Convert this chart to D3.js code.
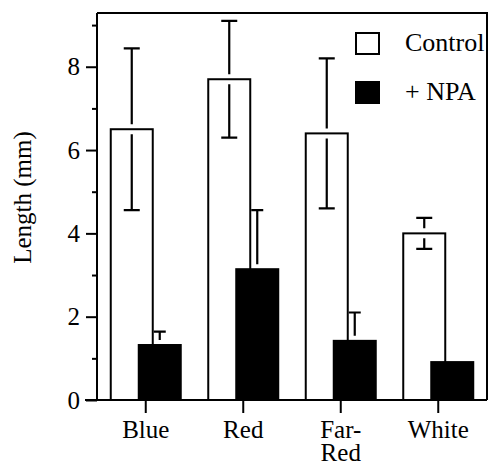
<!DOCTYPE html>
<html>
<head>
<meta charset="utf-8">
<script src="https://cdn.jsdelivr.net/npm/d3@7"></script>
<style>
  html, body { margin: 0; padding: 0; background: #fff; }
</style>
</head>
<body>
<svg id="chart" width="490" height="463"></svg>
<script>
const categories = ["Blue", "Red", "Far-Red", "White"];
const seriesNames = ["Control", "+ NPA"];
const controlValues = [6.5, 7.7, 6.4, 4.0];
const controlErrors = [1.94, 1.4, 1.8, 0.37];
const npaValues = [1.32, 3.14, 1.42, 0.91];
const npaErrors = [0.32, 1.42, 0.68, 0];
const yTicks = [0, 2, 4, 6, 8];
const yMinorTicks = [1, 3, 5, 7, 9];

const width = 490, height = 463;
const marginLeft = 97, marginRight = 3, marginTop = 13, marginBottom = 63;
const textFont = size => `font-size: ${size}px; font-family: "Liberation Serif";`;

const svg = d3.select("#chart");

const x = d3.scaleBand()
    .domain(categories)
    .range([marginLeft, width - marginRight]);

const y = d3.scaleLinear()
    .domain([0, 9.29])
    .range([height - marginBottom, marginTop]);

const offset = d3.scaleOrdinal().domain(seriesNames).range([-14, 14]);
const barW = 42;
const cx = (c, s) => x(c) + x.bandwidth() / 2 + offset(s);

const series = [
  { name: "Control", values: controlValues, errors: controlErrors, fill: "#fff", cap: 16, lower: true },
  { name: "+ NPA", values: npaValues, errors: npaErrors, fill: "#000", cap: 12, lower: false }
];

const gap = 5;
series.forEach(s => {
  const g = svg.append("g");
  g.selectAll("rect")
    .data(categories)
    .join("rect")
      .attr("x", c => cx(c, s.name) - barW / 2)
      .attr("width", barW)
      .attr("y", (c, i) => y(s.values[i]))
      .attr("height", (c, i) => y(0) - y(s.values[i]))
      .attr("fill", s.fill)
      .attr("stroke", "#000")
      .attr("stroke-width", 2);

  // error bars, with a little gap at the bar top
  g.selectAll("path.err")
    .data(categories.map((c, i) => ({ c, v: s.values[i], e: s.errors[i] })).filter(d => d.e > 0))
    .join("path")
      .attr("class", "err")
      .attr("fill", "none")
      .attr("stroke", "#000")
      .attr("stroke-width", 2.2)
      .attr("d", d => {
        const px = cx(d.c, s.name), hw = s.cap / 2;
        let p = `M${px},${y(d.v) - gap}V${y(d.v + d.e)}M${px - hw},${y(d.v + d.e)}H${px + hw}`;
        if (s.lower) p += `M${px},${y(d.v) + gap}V${y(d.v - d.e)}M${px - hw},${y(d.v - d.e)}H${px + hw}`;
        return p;
      });
});

// frame top and right
svg.append("path")
    .attr("fill", "none")
    .attr("stroke", "#000")
    .attr("stroke-width", 2)
    .attr("d", `M${marginLeft},${marginTop}H${width - marginRight}V${y(0)}`);

// x axis
const xAxis = svg.append("g")
    .attr("transform", `translate(0,${y(0)})`)
    .call(d3.axisBottom(x).tickSize(13).tickSizeOuter(0).tickFormat(""));
xAxis.select(".domain").remove();
xAxis.selectAll(".tick line").attr("stroke-width", 2);
svg.append("line")
    .attr("x1", 85).attr("x2", width - marginRight)
    .attr("y1", y(0)).attr("y2", y(0))
    .attr("stroke", "#000").attr("stroke-width", 2);

// category labels, Far-Red broken on two lines
const labelLines = categories.flatMap(c =>
  (c === "Far-Red" ? ["Far-", "Red"] : [c]).map((t, i) => ({ c, t, i })));
svg.append("g")
  .selectAll("text")
  .data(labelLines)
  .join("text")
    .attr("x", d => x(d.c) + x.bandwidth() / 2)
    .attr("y", d => y(0) + 38 + d.i * 23)
    .attr("text-anchor", "middle")
    .attr("style", textFont(25))
    .text(d => d.t);

// y axis
const yAxis = svg.append("g")
    .attr("transform", `translate(${marginLeft},0)`)
    .call(d3.axisLeft(y).tickValues(yTicks).tickSize(11).tickPadding(6).tickSizeOuter(0));
yAxis.attr("font-family", null).attr("font-size", null);
yAxis.select(".domain").attr("d", `M0,${y(0)}V${marginTop}`).attr("stroke-width", 2);
yAxis.selectAll(".tick line").attr("stroke-width", 2);
yAxis.selectAll(".tick text")
    .attr("fill", "#000")
    .attr("style", textFont(25));

svg.append("g")
    .attr("transform", `translate(${marginLeft},0)`)
    .call(d3.axisLeft(y).tickValues(yMinorTicks).tickSize(5).tickFormat(""))
    .call(g => g.select(".domain").remove())
    .selectAll(".tick line").attr("stroke-width", 2);

svg.append("text")
    .attr("transform", `translate(31,${(130 + 265) / 2}) rotate(-90)`)
    .attr("text-anchor", "middle")
    .attr("style", textFont(25))
    .text("Length (mm)");

// legend
const legend = svg.append("g")
  .selectAll("g")
  .data(series)
  .join("g")
    .attr("transform", (d, i) => `translate(356,${33 + i * 49})`);
legend.append("rect")
    .attr("width", 23).attr("height", 21)
    .attr("fill", d => d.fill)
    .attr("stroke", "#000")
    .attr("stroke-width", 2);
legend.append("text")
    .attr("x", 49)
    .attr("y", 18)
    .attr("style", textFont(26))
    .text(d => d.name);
</script>
</body>
</html>
